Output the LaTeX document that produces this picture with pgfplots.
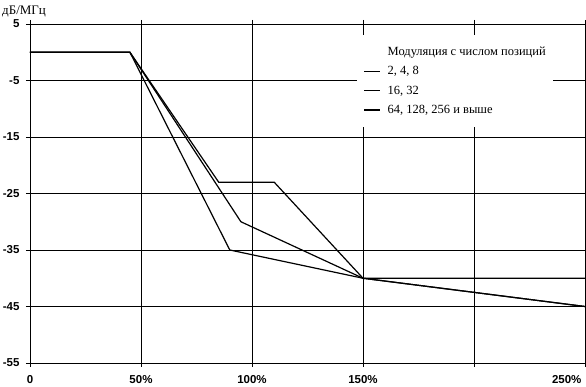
\documentclass[border=0pt]{standalone}
\usepackage{pgfplots}
\pgfplotsset{compat=1.18}
\usepackage{fontspec}
\setmainfont{Liberation Serif}
\newfontfamily\tickfont{Liberation Sans}
\begin{document}
\begin{tikzpicture}
\begin{axis}[
  at={(0,0)}, anchor=south west,
  scale only axis,
  width=555pt, height=339pt,
  xmin=0, xmax=250, ymin=-55, ymax=5,
  xtick={0,50,100,150,200},
  xticklabels={0,50\%,100\%,150\%,{}},
  extra x ticks={250},
  extra x tick labels={250\%},
  extra x tick style={grid=major, xticklabel style={anchor=north east, xshift=0pt}},
  ytick={-55,-45,-35,-25,-15,-5,5},
  grid=major,
  grid style={black, line width=0.7pt},
  axis line style={black, line width=0.7pt},
  tick style={black, line width=0.7pt},
  tick align=outside,
  major tick length=4pt,
  /pgf/number format/assume math mode=true,
  ticklabel style={font=\tickfont\bfseries\fontsize{11.5}{13}\selectfont},
  xticklabel style={yshift=-5pt},
  yticklabel style={xshift=-3pt},
  legend cell align=left,
  legend style={
    at={(rel axis cs:0.589,0.968)}, anchor=north west,
    draw=none, fill=white,
    font=\fontsize{12.5}{15}\selectfont,
    row sep=5.5pt,
    inner xsep=5pt, inner ysep=10pt,
  },
  legend image code/.code={\draw[line width=1.3pt] (2pt,0pt) -- (18pt,0pt); \path (23pt,0pt);},
]
\addlegendimage{empty legend}
\addlegendentry{Модуляция с числом позиций\rule[-10.5pt]{0pt}{8pt}}
\addplot[black, line width=1.2pt] coordinates {(0,0) (45,0) (85,-23) (110,-23) (150,-40) (250,-40)};
\addlegendentry{2, 4, 8}
\addplot[black, line width=1.2pt] coordinates {(0,0) (45,0) (95,-30) (150,-40) (250,-45)};
\addlegendentry{16, 32}
\addplot[black, line width=1.2pt] coordinates {(0,0) (45,0) (90,-35) (150,-40) (250,-45)};
\addlegendentry{64, 128, 256 и выше}
\end{axis}
\node[anchor=west, inner sep=0pt, font=\fontsize{13}{15}\selectfont] at (-28pt,352pt) {дБ/МГц};
\pgfresetboundingbox
\path[use as bounding box] (-30pt,-24pt) rectangle (556pt,363pt);
\end{tikzpicture}
\end{document}
